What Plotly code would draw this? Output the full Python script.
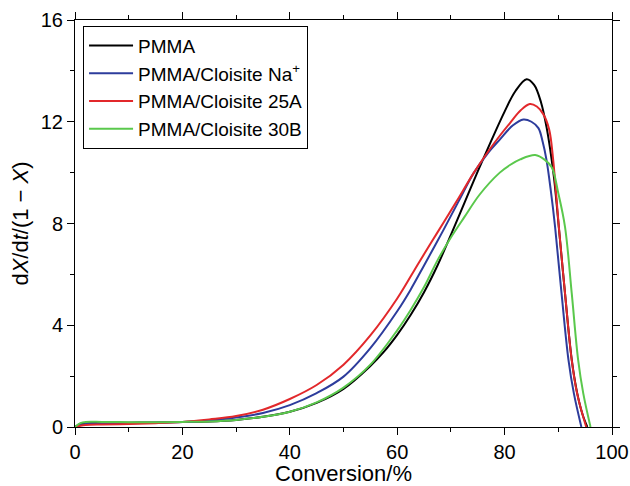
import plotly.graph_objects as go

# Conversion (%) and dX/dt/(1-X)
pmma_x = [0, 1, 2, 5, 10, 15, 20, 25, 30, 35, 40, 45, 50, 55, 57.5, 60, 62.5, 65, 67.5, 70, 72.5, 75, 77.5, 80, 82, 84.1, 85.5, 86.8, 87.8, 88.5, 89.2, 90.1, 91.25, 92.5, 93.5, 94.5, 95.4]
pmma_y = [0, 0.12, 0.15, 0.16, 0.17, 0.18, 0.2, 0.22, 0.28, 0.4, 0.6, 0.95, 1.5, 2.4, 2.95, 3.62, 4.4, 5.3, 6.35, 7.55, 8.8, 10.05, 11.25, 12.4, 13.2, 13.67, 13.45, 12.75, 11.8, 10.9, 9.8, 7.85, 5.25, 2.65, 1.35, 0.5, 0]

na_x = [0, 1, 2, 5, 10, 15, 20, 25, 30, 35, 40, 45, 50, 55, 60, 62.5, 65, 68.6, 71.5, 74.2, 77, 79.1, 81.5, 83.5, 85, 86.3, 87.1, 87.8, 88.6, 89.4, 90.6, 91.9, 92.9, 94.3]
na_y = [0, 0.08, 0.12, 0.14, 0.15, 0.17, 0.2, 0.26, 0.37, 0.55, 0.86, 1.33, 1.98, 3.1, 4.55, 5.4, 6.35, 7.74, 8.9, 9.97, 10.8, 11.3, 11.85, 12.09, 12.0, 11.75, 11.2, 10.5, 9.3, 7.87, 5.26, 2.63, 1.32, 0]

a25_x = [0, 1, 2, 5, 10, 15, 20, 25, 30, 35, 40, 45, 50, 55, 60, 64, 67.5, 71, 74.2, 77, 79.1, 81, 83, 84.7, 86, 87.2, 88.3, 89, 89.5, 90.1, 91.25, 92.5, 93.5, 95.2]
a25_y = [0, 0.05, 0.08, 0.1, 0.12, 0.15, 0.2, 0.3, 0.43, 0.68, 1.1, 1.65, 2.45, 3.6, 5.05, 6.45, 7.65, 8.85, 9.97, 10.85, 11.45, 11.95, 12.45, 12.7, 12.6, 12.3, 11.7, 10.6, 9.4, 7.87, 5.26, 2.63, 1.32, 0]

b30_x = [0, 1, 2, 5, 10, 15, 20, 25, 30, 35, 40, 45, 50, 55, 60, 62.5, 65, 67.5, 70, 72.5, 75.4, 79.1, 81, 82.9, 85.7, 87.5, 88.8, 90.0, 91.25, 92.5, 93.7, 94.65, 96.0]
b30_y = [0, 0.15, 0.2, 0.2, 0.19, 0.19, 0.2, 0.22, 0.28, 0.4, 0.6, 0.97, 1.55, 2.45, 3.8, 4.6, 5.5, 6.55, 7.45, 8.25, 9.15, 10.0, 10.3, 10.52, 10.69, 10.5, 10.2, 9.19, 7.87, 5.26, 2.63, 1.32, 0]

series = [
    ("PMMA", pmma_x, pmma_y, "#000000"),
    ("PMMA/Cloisite Na<sup>+</sup>", na_x, na_y, "#2d3c9c"),
    ("PMMA/Cloisite 25A", a25_x, a25_y, "#e2282b"),
    ("PMMA/Cloisite 30B", b30_x, b30_y, "#5ac84c"),
]

x_ticks = [0, 20, 40, 60, 80, 100]
y_ticks = [0, 4, 8, 12, 16]

fig = go.Figure()
for name, xs, ys, col in series:
    fig.add_trace(go.Scatter(x=xs, y=ys, mode="lines", name=name,
                             line=dict(color=col, width=2, shape="spline", smoothing=1.0)))

font_family = "Liberation Sans, Arial, sans-serif"
axis_common = dict(showgrid=False, zeroline=False, showline=True, linecolor="black", linewidth=1,
                   mirror="ticks", ticks="outside", ticklen=7, tickwidth=1, tickcolor="black",
                   automargin=False,
                   tickfont=dict(size=20, color="black", family=font_family))

fig.update_xaxes(range=[0, 100], tickvals=x_ticks, ticktext=[str(v) for v in x_ticks],
                 minor=dict(dtick=10, tick0=0, ticks="outside", ticklen=4, tickcolor="black"),
                 title=dict(text="Conversion/%", font=dict(size=22, color="black", family=font_family), standoff=4),
                 **axis_common)
fig.update_yaxes(range=[0, 16], tickvals=y_ticks, ticktext=[str(v) for v in y_ticks],
                 minor=dict(dtick=2, tick0=0, ticks="outside", ticklen=4, tickcolor="black"),
                 title=dict(text="d<i>X</i>/d<i>t</i>/(1 − <i>X</i>)", font=dict(size=22, color="black", family=font_family), standoff=6),
                 **axis_common)

fig.update_layout(
    width=630, height=486,
    margin=dict(l=75, r=18, t=20, b=59),
    plot_bgcolor="white", paper_bgcolor="white",
    font=dict(family=font_family, color="black"),
    legend=dict(x=0.015, y=0.986, xanchor="left", yanchor="top",
                bordercolor="black", borderwidth=1, bgcolor="white",
                font=dict(size=19, color="black", family=font_family),
                tracegroupgap=0, itemwidth=44),
    showlegend=True,
)

fig.write_html("out.html")
